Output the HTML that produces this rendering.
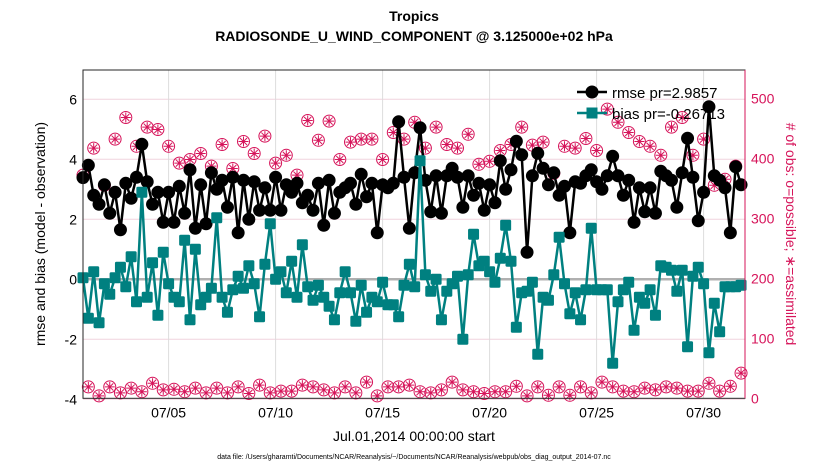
<!DOCTYPE html>
<html><head><meta charset="utf-8"><style>
html,body{margin:0;padding:0;background:#fff;width:830px;height:470px;overflow:hidden}
svg{display:block;font-family:"Liberation Sans",sans-serif}
</style></head><body>
<svg id="chart" width="830" height="470" viewBox="0 0 830 470" xmlns="http://www.w3.org/2000/svg">
<text x="414" y="21" text-anchor="middle" font-size="14" font-weight="bold">Tropics</text>
<text x="414" y="41" text-anchor="middle" font-size="14" font-weight="bold">RADIOSONDE_U_WIND_COMPONENT @ 3.125000e+02 hPa</text>
<g id="grid"></g><g id="marks"></g><g id="axes"></g>
<text transform="translate(45,234) rotate(-90)" text-anchor="middle" font-size="14">rmse and bias (model - observation)</text>
<text transform="translate(786,234) rotate(90)" text-anchor="middle" font-size="14" fill="#d6145a"># of obs: o=possible; ∗=assimilated</text>
<text x="414" y="441" text-anchor="middle" font-size="14">Jul.01,2014 00:00:00 start</text>
<text x="414" y="459" text-anchor="middle" font-size="7">data file: /Users/gharamti/Documents/NCAR/Reanalysis/~/Documents/NCAR/Reanalysis/webpub/obs_diag_output_2014-07.nc</text>
<g id="legend"></g>
</svg>
<script>
const rmse=[3.39,3.8,2.8,2.5,3.15,2.2,2.9,1.65,3.2,2.7,3.4,4.5,3.25,2.5,2.9,1.9,2.9,1.9,3.1,2.2,3.65,1.7,3.15,1.85,3.55,3.0,3.3,2.4,3.4,1.55,3.3,
2.0,3.25,2.3,3.05,2.3,3.4,2.3,3.15,2.9,3.2,2.55,2.8,2.3,3.2,1.8,3.3,2.2,2.9,3.05,3.2,2.5,3.5,2.75,3.2,1.55,3.15,3.05,3.2,5.25,3.4,1.7,
3.55,5.05,3.3,2.25,3.45,2.2,3.45,3.7,3.4,2.4,3.45,2.8,3.2,2.3,3.15,2.55,3.95,3.0,3.65,4.6,4.15,0.9,3.45,4.2,3.7,3.15,3.55,2.8,3.1,1.55,3.25,
3.2,3.45,3.65,3.25,3.0,3.45,4.1,3.45,2.8,3.3,1.9,3.05,2.25,3.05,2.2,3.6,3.45,3.3,2.4,3.55,4.7,3.4,1.95,2.9,5.75,3.45,3.3,3.05,1.55,3.75,3.15];
const bias=[0.05,-1.3,0.25,-1.45,-0.15,-0.5,0.05,0.4,-0.25,0.75,-0.75,2.9,-0.6,0.55,-1.2,0.9,-0.15,-0.6,-0.75,1.3,-1.35,1.0,-0.85,-0.6,-0.3,2.05,-0.6,-1.1,-0.35,0.1,-0.3,
0.45,-0.15,-1.25,0.5,1.85,0,0.25,-0.45,0.6,-0.6,1.15,-0.25,-0.7,-0.2,-0.6,-0.9,-1.35,-0.45,0.25,-0.45,-1.4,-0.2,-1.1,-0.6,-0.75,-0.1,-0.85,-0.85,-1.25,-0.2,0.5,
-0.25,3.95,0.15,-0.4,0,-1.35,-0.4,-0.15,0.1,-2.0,0.15,1.5,0.45,0.6,0.25,-0.1,0.7,1.8,0.6,-1.6,-0.45,-0.4,-0.1,-2.5,-0.6,-0.7,0.15,1.4,-0.15,-1.15,-0.45,
-1.35,-0.35,1.7,-0.35,-0.35,-0.35,-2.8,-0.75,-0.35,-0.1,-1.7,-0.6,-0.8,-0.35,-1.2,0.45,0.4,0.3,-0.4,0.3,-2.25,0.1,0.4,-0.15,-2.45,-0.8,-1.75,-0.25,-0.25,-0.25,-0.2];
const possHigh=[372,417,355,432,468,420,452,448,420,392,398,408,387,423,383,428,408,437,392,405,372,463,430,462,398,427,432,432,398,443,432,
460,417,452,423,417,440,390,395,413,423,452,422,427,375,420,417,433,413,482,460,443,428,420,405,452,468,405,432,355,365,387];
const possLow=[19,4,19,9,17,11,25,14,15,11,17,9,17,9,19,8,22,9,12,12,22,19,14,9,19,9,27,4,19,19,22,
11,9,14,27,14,11,8,11,11,20,4,19,5,19,5,19,9,27,19,12,11,17,14,19,17,12,12,25,12,20,42];
const assimHigh=possHigh.slice();
const assimLow=possLow.slice();
const yTicks=[-4,-2,0,2,4,6];
const y2Ticks=[0,100,200,300,400,500];
const xTickDays=[4,9,14,19,24,29];
const xTickLabels=["07/05","07/10","07/15","07/20","07/25","07/30"];

const NS="http://www.w3.org/2000/svg";
const L=83,R=745,T=70,B=398.3;
const x=d=>L+21.4*d;
const y=v=>279.3-30*v;
const y2=c=>398.3-0.6*c;
function mk(tag,attrs,parent){const e=document.createElementNS(NS,tag);for(const k in attrs)e.setAttribute(k,attrs[k]);parent.appendChild(e);return e;}
const grid=document.getElementById('grid'),marks=document.getElementById('marks'),axes=document.getElementById('axes'),leg=document.getElementById('legend');
yTicks.forEach(v=>{const g=mk('line',{x1:L,x2:R,y1:y(v),y2:y(v),stroke:'#f0d4de','stroke-width':1},grid);

});
xTickDays.forEach((d,i)=>{const g=mk('line',{x1:x(d),x2:x(d),y1:T,y2:B,stroke:'#dcdcdc','stroke-width':1},grid);


const t=mk('text',{x:x(d),y:B+19,'text-anchor':'middle','font-size':14},axes);t.textContent=xTickLabels[i];

});
const z=mk('line',{x1:L,x2:R,y1:y(0),y2:y(0),stroke:'#b0b0b0','stroke-width':2.5},grid);


// obs markers
function obsMark(cx,cy,name){const g=mk('g',{},marks);


mk('circle',{cx:cx,cy:cy,r:6,fill:'none',stroke:'#d6145a','stroke-width':1},g);
return g;}
function star(cx,cy,g){let d='';for(let a=0;a<4;a++){const an=a*Math.PI/4;const dx=5*Math.cos(an),dy=5*Math.sin(an);d+=`M${cx-dx},${cy-dy}L${cx+dx},${cy+dy}`;}
mk('path',{d:d,stroke:'#d6145a','stroke-width':1,fill:'none'},g);}
const day=i=>i*0.25;
possHigh.forEach((c,k)=>{const i=2*k;const g=obsMark(x(day(i)),y2(c),'obs-possible');star(x(day(i)),y2(assimHigh[k]),g);});
possLow.forEach((c,k)=>{const i=2*k+1;const g=obsMark(x(day(i)),y2(c),'obs-possible');star(x(day(i)),y2(assimLow[k]),g);});
// rmse
const rp=mk('polyline',{points:rmse.map((v,i)=>x(day(i))+','+y(v)).join(' '),fill:'none',stroke:'#000','stroke-width':2.5},marks);


rmse.forEach((v,i)=>{const c=mk('circle',{cx:x(day(i)),cy:y(v),r:6.5,fill:'#000'},marks);

});
const bp=mk('polyline',{points:bias.map((v,i)=>x(day(i))+','+y(v)).join(' '),fill:'none',stroke:'#008080','stroke-width':2.5},marks);


bias.forEach((v,i)=>{const c=mk('rect',{x:x(day(i))-5.5,y:y(v)-5.5,width:11,height:11,rx:1.5,fill:'#008080'},marks);

});
// axes
const fr=mk('rect',{x:L,y:T,width:R-L,height:B-T,fill:'none',stroke:'#262626','stroke-width':1},axes);


const ra=mk('line',{x1:R,x2:R,y1:T,y2:B,stroke:'#d6145a','stroke-width':1},axes);


yTicks.forEach(v=>{const t=mk('text',{x:L-6,y:y(v)+5,'text-anchor':'end','font-size':14},axes);t.textContent=v;

});
y2Ticks.forEach(v=>{const t=mk('text',{x:R+6,y:y2(v)+5,'text-anchor':'start','font-size':14,fill:'#d6145a'},axes);t.textContent=v;

});
// legend
mk('line',{x1:577,x2:607,y1:92,y2:92,stroke:'#000','stroke-width':2.5},leg);
mk('circle',{cx:592,cy:92,r:6.5,fill:'#000'},leg);
const t1=mk('text',{x:612,y:98,'font-size':15},leg);t1.textContent='rmse pr=2.9857';


mk('line',{x1:577,x2:607,y1:113,y2:113,stroke:'#008080','stroke-width':2.5},leg);
mk('rect',{x:586.5,y:107.5,width:11,height:11,fill:'#008080'},leg);
const t2=mk('text',{x:612,y:119,'font-size':15},leg);t2.textContent='bias pr=-0.26713';


</script>
</body></html>
